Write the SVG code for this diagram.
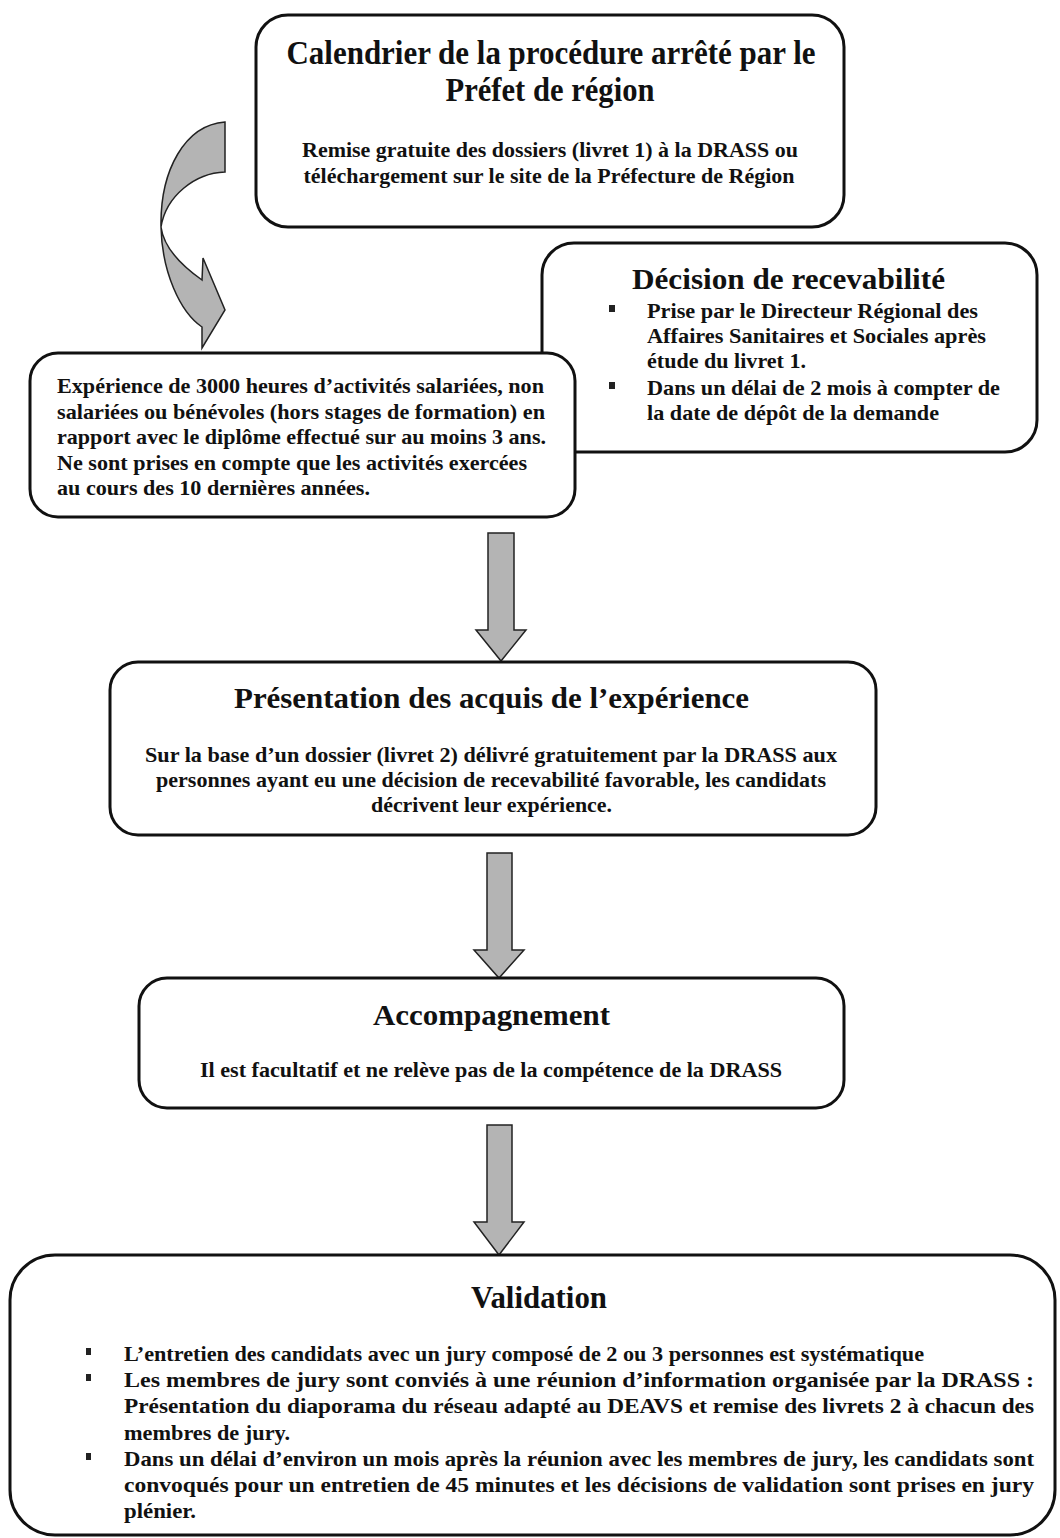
<svg xmlns="http://www.w3.org/2000/svg" width="1060" height="1538" viewBox="0 0 1060 1538">
<style>
.box{fill:#fff;stroke:#111;stroke-width:3}
.arr{fill:#b4b4b4;stroke:#222;stroke-width:1.5;stroke-linejoin:miter}
text{font-family:"Liberation Serif","Times New Roman",serif;font-weight:bold;fill:#111}
.t30{font-size:33px}
.t27{font-size:30px}
.b{font-size:22px}
.c{text-anchor:middle}
.bul{fill:#222}
</style>
<rect width="1060" height="1538" fill="#fff"/>
<g id="connectors">
<path class="arr" d="M225,122 C185,125 160,170 161,227 C162,272 180,312 202,327 L202,348 L225,310 L203,258 L202,280 C185,268 164,250 161,227 C166,196 195,173 225,172 Z"/>
<path class="arr" d="M488,533 L514,533 L514,630 L526,630 L501,661 L476,630 L488,630 Z"/>
<path class="arr" d="M487,853 L512,853 L512,950 L524,950 L499,978 L474,950 L487,950 Z"/>
<path class="arr" d="M487,1125 L512,1125 L512,1222 L524,1222 L499,1255 L474,1222 L487,1222 Z"/>
</g>
<g id="calendrier">
<rect class="box" x="256" y="15" width="588" height="212" rx="32"/>
<text class="t30 c" x="551" y="64" textLength="529" lengthAdjust="spacingAndGlyphs">Calendrier de la procédure arrêté par le</text>
<text class="t30 c" x="550" y="101" textLength="209" lengthAdjust="spacingAndGlyphs">Préfet de région</text>
<text class="b c" x="550" y="157" textLength="496" lengthAdjust="spacingAndGlyphs">Remise gratuite des dossiers (livret 1) à la DRASS ou</text>
<text class="b c" x="549" y="183" textLength="491" lengthAdjust="spacingAndGlyphs">téléchargement sur le site de la Préfecture de Région</text>
</g>
<g id="decision">
<rect class="box" x="542" y="243" width="495" height="209" rx="32"/>
<text class="t27" x="632" y="289" textLength="313" lengthAdjust="spacingAndGlyphs">Décision de recevabilité</text>
<rect class="bul" x="609" y="305" width="6" height="7"/>
<rect class="bul" x="609" y="382" width="6" height="7"/>
<text class="b" x="647" y="318" textLength="331" lengthAdjust="spacingAndGlyphs">Prise par le Directeur Régional des</text>
<text class="b" x="647" y="343" textLength="339" lengthAdjust="spacingAndGlyphs">Affaires Sanitaires et Sociales après</text>
<text class="b" x="647" y="368" textLength="159" lengthAdjust="spacingAndGlyphs">étude du livret 1.</text>
<text class="b" x="647" y="395" textLength="353" lengthAdjust="spacingAndGlyphs">Dans un délai de 2 mois à compter de</text>
<text class="b" x="647" y="420" textLength="292" lengthAdjust="spacingAndGlyphs">la date de dépôt de la demande</text>
</g>
<g id="experience">
<rect class="box" x="30" y="353" width="545" height="164" rx="28"/>
<text class="b" x="57" y="393" textLength="487" lengthAdjust="spacingAndGlyphs">Expérience de 3000 heures d’activités salariées, non</text>
<text class="b" x="57" y="419" textLength="488" lengthAdjust="spacingAndGlyphs">salariées ou bénévoles (hors stages de formation) en</text>
<text class="b" x="57" y="444" textLength="489" lengthAdjust="spacingAndGlyphs">rapport avec le diplôme effectué sur au moins 3 ans.</text>
<text class="b" x="57" y="470" textLength="470" lengthAdjust="spacingAndGlyphs">Ne sont prises en compte que les activités exercées</text>
<text class="b" x="57" y="495" textLength="313" lengthAdjust="spacingAndGlyphs">au cours des 10 dernières années.</text>
</g>
<g id="presentation">
<rect class="box" x="110" y="662" width="766" height="173" rx="28"/>
<text class="t27" x="234" y="708" textLength="515" lengthAdjust="spacingAndGlyphs">Présentation des acquis de l’expérience</text>
<text class="b" x="145" y="762" textLength="692" lengthAdjust="spacingAndGlyphs">Sur la base d’un dossier (livret 2) délivré gratuitement par la DRASS aux</text>
<text class="b" x="156" y="787" textLength="670" lengthAdjust="spacingAndGlyphs">personnes ayant eu une décision de recevabilité favorable, les candidats</text>
<text class="b" x="371" y="812" textLength="241" lengthAdjust="spacingAndGlyphs">décrivent leur expérience.</text>
</g>
<g id="accompagnement">
<rect class="box" x="139" y="978" width="705" height="130" rx="28"/>
<text class="t27" x="373" y="1025" textLength="237" lengthAdjust="spacingAndGlyphs">Accompagnement</text>
<text class="b" x="200" y="1077" textLength="582" lengthAdjust="spacingAndGlyphs">Il est facultatif et ne relève pas de la compétence de la DRASS</text>
</g>
<g id="validation">
<rect class="box" x="10" y="1255" width="1045" height="280" rx="45"/>
<text class="t27" x="471" y="1308" textLength="136" lengthAdjust="spacingAndGlyphs" style="font-size:31px">Validation</text>
<rect class="bul" x="86" y="1348" width="5" height="7"/>
<rect class="bul" x="86" y="1374" width="5" height="7"/>
<rect class="bul" x="86" y="1453" width="5" height="7"/>
<text class="b" x="124" y="1361" textLength="800" lengthAdjust="spacingAndGlyphs">L’entretien des candidats avec un jury composé de 2 ou 3 personnes est systématique</text>
<text class="b" x="124" y="1387" textLength="910" lengthAdjust="spacingAndGlyphs">Les membres de jury sont conviés à une réunion d’information organisée par la DRASS :</text>
<text class="b" x="124" y="1413" textLength="910" lengthAdjust="spacingAndGlyphs">Présentation du diaporama du réseau adapté au DEAVS et remise des livrets 2 à chacun des</text>
<text class="b" x="124" y="1440" textLength="166" lengthAdjust="spacingAndGlyphs">membres de jury.</text>
<text class="b" x="124" y="1466" textLength="910" lengthAdjust="spacingAndGlyphs">Dans un délai d’environ un mois après la réunion avec les membres de jury, les candidats sont</text>
<text class="b" x="124" y="1492" textLength="910" lengthAdjust="spacingAndGlyphs">convoqués pour un entretien de 45 minutes et  les décisions de validation sont prises en jury</text>
<text class="b" x="124" y="1518" textLength="72" lengthAdjust="spacingAndGlyphs">plénier.</text>
</g>
</svg>
